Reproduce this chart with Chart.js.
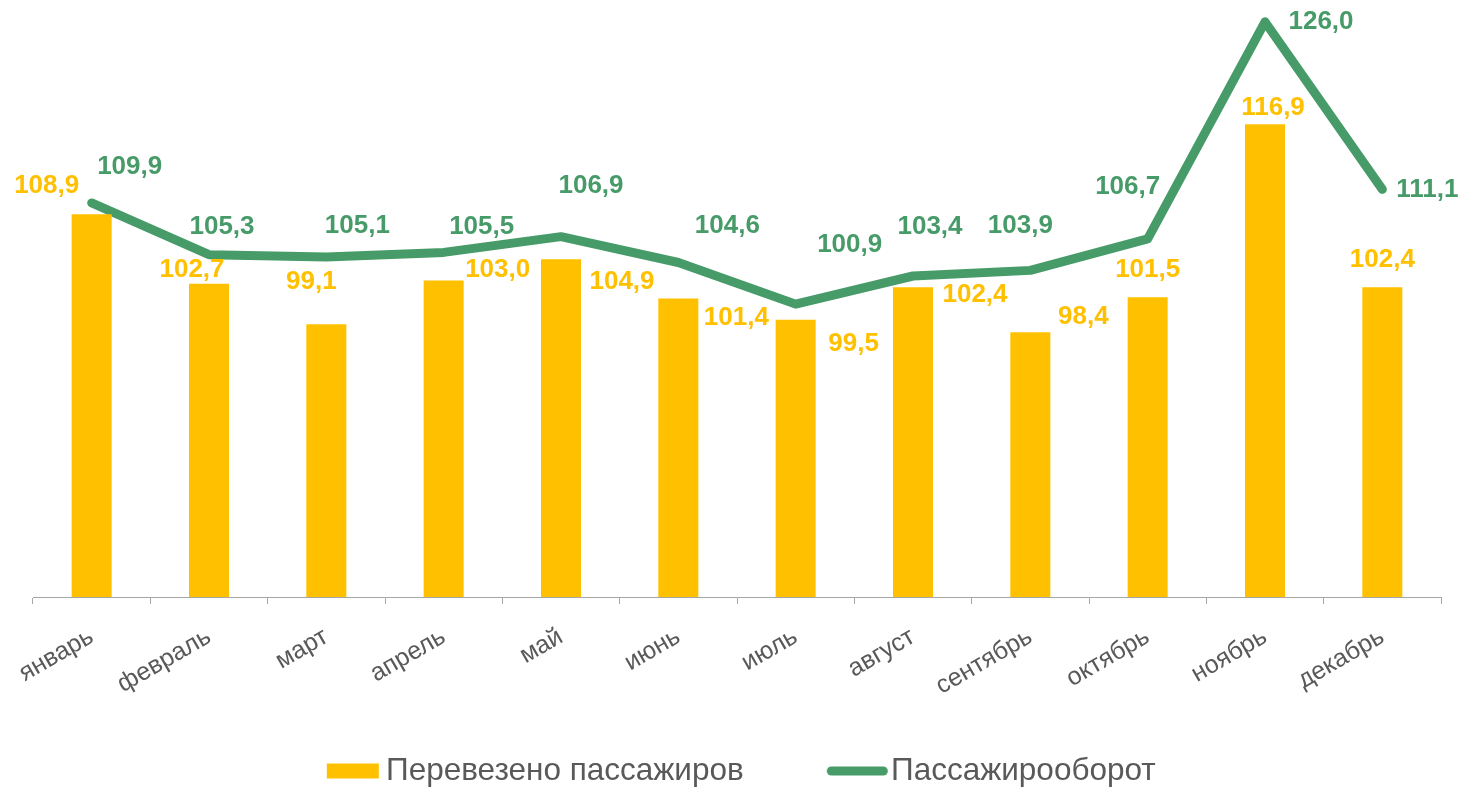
<!DOCTYPE html>
<html>
<head>
<meta charset="utf-8">
<script src="https://cdn.jsdelivr.net/npm/chart.js@4"></script>
<style>
html,body{margin:0;padding:0;background:#fff;}
#wrap{width:1463px;height:789px;position:relative;}
</style>
</head>
<body>
<div id="wrap"><canvas id="c" width="1463" height="789"></canvas></div>
<script>
// ---- data ----
const categories = ['январь','февраль','март','апрель','май','июнь','июль','август','сентябрь','октябрь','ноябрь','декабрь'];
const passengers = [108.9, 102.7, 99.1, 103.0, 104.9, 101.4, 99.5, 102.4, 98.4, 101.5, 116.9, 102.4];
const turnover   = [109.9, 105.3, 105.1, 105.5, 106.9, 104.6, 100.9, 103.4, 103.9, 106.7, 126.0, 111.1];
const seriesNames = ['Перевезено пассажиров', 'Пассажирооборот'];

// ---- label placement (offsets from the mark, px) ----
const barLabelOffsets = [[-45,-28],[-17,-14],[-15,-43],[54,-11],[61,23],[58,19],[58,24],[62,8],[53,-15],[0,-28],[8,-16],[0,-27]];
const lineLabelOffsets = [[38,-36],[13,-28],[31,-31],[38,-26],[30,-51],[49,-37],[54,-59],[17,-49],[-10,-45],[-20,-52],[56,0],[45,0]];

const YELLOW = '#FFC000';
const GREEN = '#469B68';
const GRAY_TXT = '#595959';
const FONT = "'Liberation Sans', Arial, sans-serif";

// ---- legend geometry ----
const LEG_FS = 31.5;
const mctx = document.createElement('canvas').getContext('2d');
mctx.font = LEG_FS + 'px ' + FONT;
const w1 = mctx.measureText(seriesNames[0]).width;
const w2 = mctx.measureText(seriesNames[1]).width;
const LEFT_AXIS_W = 33;
const PAD_L = 0, PAD_R = 22, PAD_T = 10;
const Lb = PAD_L, Rb = 1463 - PAD_R;
const T1 = 386, T2 = 891;        // where legend texts start
let P = Lb + Rb - w1 - w2 - 2 * T1;
if (P < 4) P = 4;
let B = (T2 - T1) - LEG_FS / 2 - w1 - P;
if (B < 10) B = 10;
const legendH = LEG_FS + P + 10;
const PAD_B = -(771 - (789 - LEG_FS / 2 - 10));   // legend text centre at y=771
const xAxisH = 789 - PAD_B - legendH - 597;

function makeBoxIcon() {
  const right = B/2 + 8.5, left = right - 52;
  const h = Math.ceil(Math.max(Math.abs(right), Math.abs(left))) + 1;
  const cv = document.createElement('canvas');
  cv.width = 2*h; cv.height = 16;
  const g = cv.getContext('2d');
  g.fillStyle = YELLOW;
  g.fillRect(left + h, 0.5, 52, 15);
  return cv;
}
function makeLineIcon() {
  const right = B/2 + 12.5, left = right - 61;
  const h = Math.ceil(Math.max(Math.abs(right), Math.abs(left))) + 1;
  const cv = document.createElement('canvas');
  cv.width = 2*h; cv.height = 12;
  const g = cv.getContext('2d');
  g.strokeStyle = GREEN; g.lineWidth = 9; g.lineCap = 'round';
  g.beginPath(); g.moveTo(left + h + 4.5, 6); g.lineTo(right + h - 4.5, 6); g.stroke();
  return cv;
}
const icons = [makeBoxIcon(), makeLineIcon()];

const fmt = v => v.toFixed(1).replace('.', ',');

const valueLabels = {
  id: 'valueLabels',
  afterDatasetsDraw(chart) {
    const ctx = chart.ctx;
    ctx.save();
    ctx.font = 'bold 26px ' + FONT;
    ctx.textAlign = 'center';
    ctx.textBaseline = 'middle';
    chart.data.datasets.forEach((ds, di) => {
      const meta = chart.getDatasetMeta(di);
      const offs = di === 0 ? barLabelOffsets : lineLabelOffsets;
      ctx.fillStyle = di === 0 ? YELLOW : GREEN;
      meta.data.forEach((el, i) => {
        const o = offs[i];
        ctx.fillText(fmt(ds.data[i]), el.x + o[0], el.y + o[1]);
      });
    });
    ctx.restore();
  }
};

new Chart(document.getElementById('c'), {
  data: {
    labels: categories,
    datasets: [
      {
        type: 'bar',
        label: seriesNames[0],
        data: passengers,
        backgroundColor: YELLOW,
        borderWidth: 0,
        barPercentage: 0.341,
        categoryPercentage: 1.0
      },
      {
        type: 'line',
        label: seriesNames[1],
        data: turnover,
        borderColor: GREEN,
        backgroundColor: GREEN,
        borderWidth: 9,
        borderCapStyle: 'round',
        borderJoinStyle: 'round',
        pointRadius: 0,
        pointHoverRadius: 0,
        tension: 0,
        fill: false
      }
    ]
  },
  options: {
    responsive: false,
    animation: false,
    events: [],
    layout: { padding: { left: PAD_L, right: PAD_R, top: PAD_T, bottom: PAD_B } },
    scales: {
      x: {
        type: 'category',
        offset: true,
        grid: { display: true, offset: true, drawOnChartArea: false, drawTicks: true, tickLength: 7, color: '#A6A6A6', lineWidth: 1 },
        border: { display: true, color: '#A6A6A6', width: 1 },
        ticks: {
          color: GRAY_TXT,
          font: { family: FONT, size: 25 },
          minRotation: 30,
          maxRotation: 30,
          padding: 18,
          autoSkip: false
        },
        afterFit(scale) { scale.height = xAxisH; }
      },
      y: {
        display: true,
        min: 74.86,
        max: 127.05,
        grid: { display: false, drawTicks: false },
        border: { display: false },
        ticks: { display: false },
        afterFit(scale) { scale.width = LEFT_AXIS_W; }
      }
    },
    plugins: {
      tooltip: { enabled: false },
      legend: {
        display: true,
        position: 'bottom',
        align: 'center',
        labels: {
          color: GRAY_TXT,
          font: { family: FONT, size: LEG_FS },
          usePointStyle: true,
          pointStyleWidth: B,
          boxWidth: B,
          padding: P,
          generateLabels(chart) {
            const items = Chart.defaults.plugins.legend.labels.generateLabels(chart);
            items.forEach((it) => { it.pointStyle = icons[it.datasetIndex]; it.fontColor = GRAY_TXT; });
            return items;
          }
        }
      }
    }
  },
  plugins: [valueLabels]
});
</script>
</body>
</html>
